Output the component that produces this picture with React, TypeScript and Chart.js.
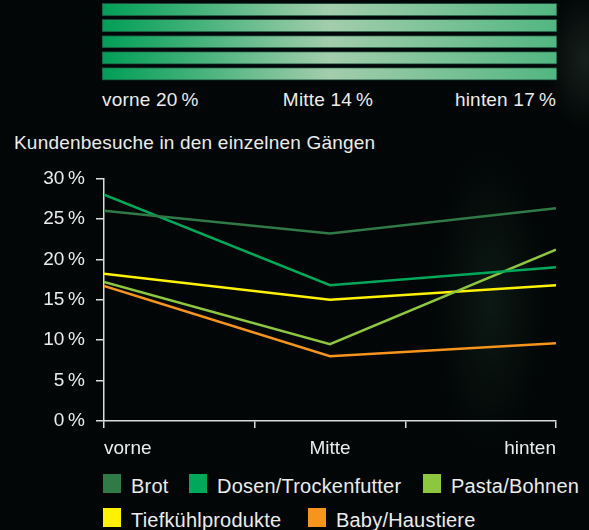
import React, { useEffect, useRef } from 'react';
import { Chart, registerables } from 'chart.js';

Chart.register(...registerables);

// ---------- data ----------
const sections = ['vorne', 'Mitte', 'hinten'];
const sectionShares = [20, 14, 17];
const aisleRows = ['Gang 1', 'Gang 2', 'Gang 3', 'Gang 4', 'Gang 5'];
const yTickValues = [0, 5, 10, 15, 20, 25, 30];
const xTickValues = [0, 1, 2, 3];

const seriesNames = ['Brot', 'Dosen/Trockenfutter', 'Pasta/Bohnen', 'Tiefkühlprodukte', 'Baby/Haustiere'];
const brot = [26.0, 23.2, 26.3];
const dosen = [28.0, 16.8, 19.0];
const pasta = [17.2, 9.5, 21.2];
const tiefkuehl = [18.2, 15.0, 16.8];
const baby = [16.7, 8.0, 9.6];
const seriesValues = [brot, dosen, pasta, tiefkuehl, baby];
const seriesColors = ['#2f7a46', '#00a95a', '#8dc63f', '#fff200', '#f7941d'];

const title = 'Kundenbesuche in den einzelnen Gängen';

// ---------- styles ----------
const FONT = '"Liberation Sans", Arial, Helvetica, sans-serif';
const TEXT = '#ececec';
const AXIS = '#dcdcdc';
const DARK_GREEN = [0, 158, 86];
const LIGHT_GREEN = [163, 205, 172];

const xMax = xTickValues[xTickValues.length - 1];
const sectionPos = sections.map((_, i) => (i * xMax) / (sections.length - 1));

function shareColor(s: number) {
  const mn = Math.min(...sectionShares);
  const mx = Math.max(...sectionShares);
  const t = (s - mn) / (mx - mn);
  const c = LIGHT_GREEN.map((l, k) => Math.round(l + (DARK_GREEN[k] - l) * t));
  return `rgb(${c[0]},${c[1]},${c[2]})`;
}

const legendLayout: Array<[number, number]> = [
  [103, 474],
  [189, 474],
  [423, 474],
  [103, 508],
  [308, 508],
];

export default function App() {
  const barRef = useRef<HTMLCanvasElement | null>(null);
  const lineRef = useRef<HTMLCanvasElement | null>(null);

  useEffect(() => {
    document.body.style.margin = '0';
    document.body.style.background = '#020606';

    const barChart = new Chart(barRef.current as HTMLCanvasElement, {
      type: 'bar',
      data: {
        labels: aisleRows,
        datasets: [
          {
            data: aisleRows.map(() => 1),
            backgroundColor: (ctx: any) => {
              const area = ctx.chart.chartArea;
              if (!area) return shareColor(sectionShares[0]);
              const g = ctx.chart.ctx.createLinearGradient(area.left, 0, area.right, 0);
              sectionShares.forEach((s, i) => g.addColorStop(i / (sectionShares.length - 1), shareColor(s)));
              return g;
            },
            borderColor: '#1c4a3c',
            borderWidth: 1,
            borderSkipped: false,
            barThickness: 12.5,
          },
        ],
      },
      options: {
        indexAxis: 'y',
        animation: false,
        responsive: false,
        events: [],
        layout: { padding: { top: 1.5, bottom: 2, left: 0, right: 0 } },
        plugins: { legend: { display: false }, tooltip: { enabled: false } },
        scales: {
          x: { display: false, min: 0, max: 1 },
          y: { display: false },
        },
      },
    } as any);

    const lineChart = new Chart(lineRef.current as HTMLCanvasElement, {
      type: 'line',
      data: {
        datasets: seriesValues.map((vals, k) => ({
          label: seriesNames[k],
          data: vals.map((v, i) => ({ x: sectionPos[i], y: v })),
          borderColor: seriesColors[k],
          backgroundColor: seriesColors[k],
          borderWidth: 2.5,
          pointRadius: 0,
          tension: 0,
          fill: false,
        })),
      },
      options: {
        animation: false,
        responsive: false,
        events: [],
        layout: { padding: { top: 0, right: 33, left: 0, bottom: 0 } },
        plugins: { legend: { display: false }, tooltip: { enabled: false } },
        scales: {
          x: {
            type: 'linear',
            min: 0,
            max: xMax,
            afterBuildTicks: (s: any) => {
              const vals = Array.from(new Set([...xTickValues, ...sectionPos])).sort((a, b) => a - b);
              s.ticks = vals.map((v) => ({ value: v }));
            },
            afterFit: (s: any) => {
              s.height = 39;
            },
            grid: {
              drawOnChartArea: false,
              drawTicks: true,
              tickLength: 7,
              lineWidth: 1.5,
              color: AXIS,
              tickColor: (c: any) =>
                c.tick && xTickValues.indexOf(c.tick.value) < 0 ? 'rgba(0,0,0,0)' : AXIS,
            },
            border: { display: true, color: AXIS, width: 1.5 },
            ticks: {
              autoSkip: false,
              maxRotation: 0,
              align: 'inner',
              padding: 9,
              color: TEXT,
              font: { family: FONT, size: 19 },
              callback: (v: any) => {
                const i = sectionPos.indexOf(Number(v));
                return i >= 0 ? sections[i] : '';
              },
            },
          },
          y: {
            min: 0,
            max: 30,
            afterBuildTicks: (s: any) => {
              s.ticks = yTickValues.map((v) => ({ value: v }));
            },
            afterFit: (s: any) => {
              s.width = 104;
            },
            grid: {
              drawOnChartArea: false,
              drawTicks: true,
              tickLength: 8,
              lineWidth: 1.5,
              color: AXIS,
            },
            border: { display: true, color: AXIS, width: 1.5 },
            ticks: {
              padding: 11,
              color: TEXT,
              font: { family: FONT, size: 19 },
              callback: (v: any) => `${v}\u2009%`,
            },
          },
        },
      },
    } as any);

    return () => {
      barChart.destroy();
      lineChart.destroy();
    };
  }, []);

  const txt: React.CSSProperties = {
    position: 'absolute',
    fontFamily: FONT,
    fontSize: 19,
    lineHeight: '19px',
    color: TEXT,
    whiteSpace: 'nowrap',
    letterSpacing: '0.2px',
  };

  return (
    <div
      style={{
        position: 'fixed',
        left: 0,
        top: 0,
        width: 589,
        height: 530,
        overflow: 'hidden',
        background:
          'radial-gradient(ellipse 55px 150px at 490px 300px, rgba(30,60,45,0.35), rgba(0,0,0,0)),' +
          'radial-gradient(ellipse 40px 70px at 585px 60px, rgba(60,80,70,0.35), rgba(0,0,0,0)),' +
          '#020606',
      }}
    >
      <canvas
        ref={barRef}
        width={455}
        height={84}
        style={{ position: 'absolute', left: 102, top: 0, width: 455, height: 84 }}
      />
      <div style={{ ...txt, left: 102, top: 90 }}>{`${sections[0]} ${sectionShares[0]}\u2009%`}</div>
      <div style={{ ...txt, left: 328, top: 90, transform: 'translateX(-50%)' }}>
        {`${sections[1]} ${sectionShares[1]}\u2009%`}
      </div>
      <div style={{ ...txt, right: 589 - 556, top: 90 }}>{`${sections[2]} ${sectionShares[2]}\u2009%`}</div>

      <div style={{ ...txt, left: 14, top: 133 }}>{title}</div>

      <canvas
        ref={lineRef}
        width={589}
        height={304}
        style={{ position: 'absolute', left: 0, top: 156, width: 589, height: 304 }}
      />

      {seriesNames.map((name, k) => (
        <div key={name}>
          <div
            style={{
              position: 'absolute',
              left: legendLayout[k][0],
              top: legendLayout[k][1],
              width: 18,
              height: 19,
              background: seriesColors[k],
            }}
          />
          <div
            style={{
              ...txt,
              fontSize: 20,
              lineHeight: '20px',
              left: legendLayout[k][0] + 28,
              top: legendLayout[k][1] + 1.5,
            }}
          >
            {name}
          </div>
        </div>
      ))}
    </div>
  );
}
